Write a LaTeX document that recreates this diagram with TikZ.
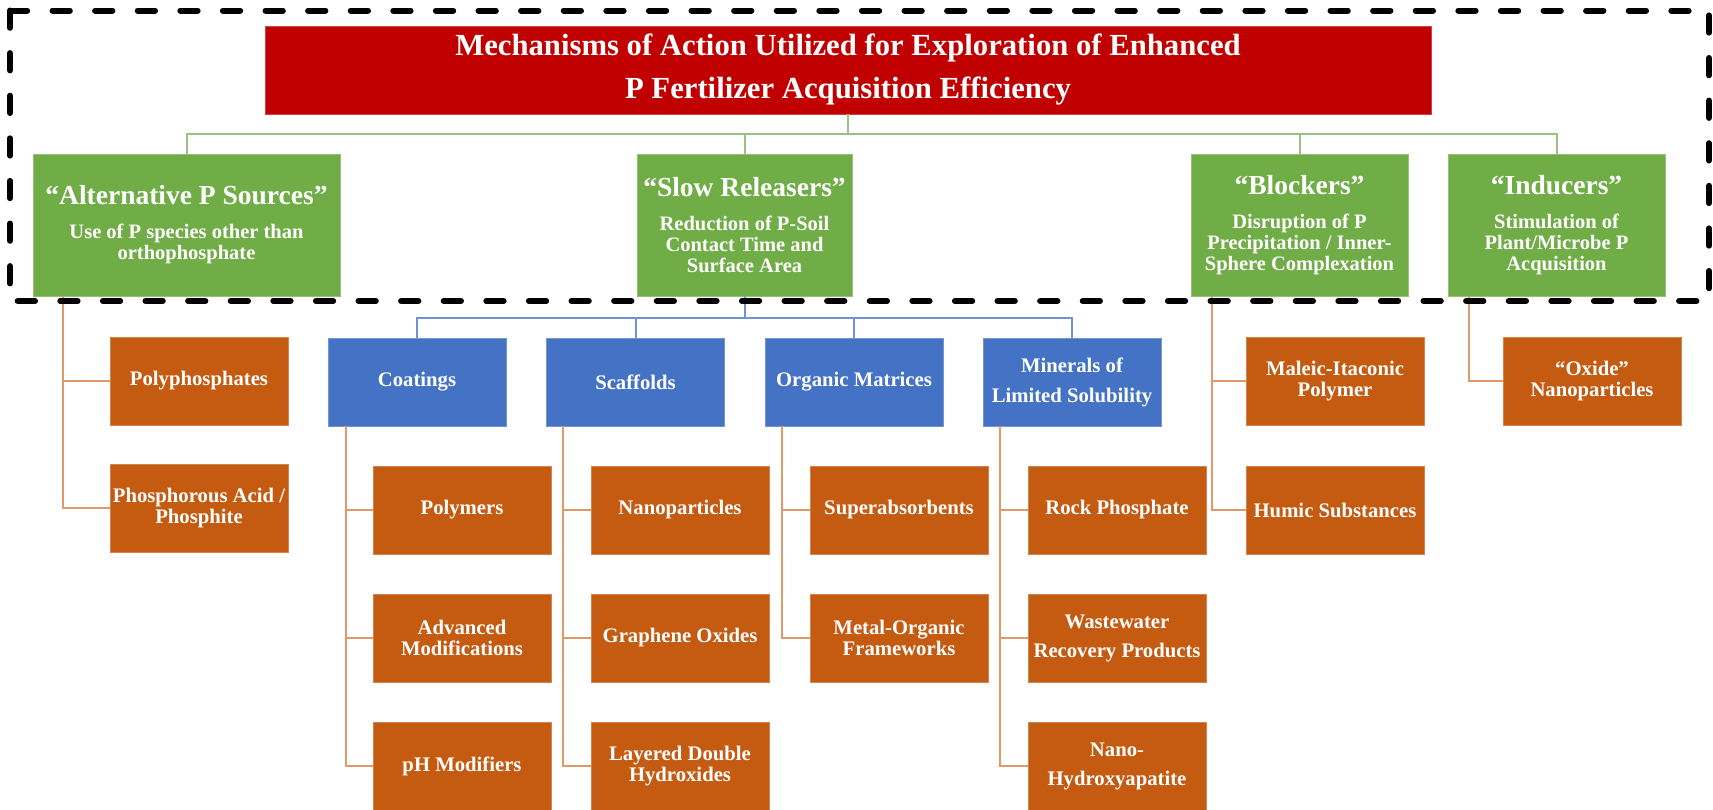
\documentclass[tikz,border=0pt]{standalone}
\usepackage{fontspec}
\setmainfont{Liberation Serif}
\definecolor{cred}{HTML}{C00000}
\definecolor{cgreen}{HTML}{70AD47}
\definecolor{cblue}{HTML}{4472C4}
\definecolor{corange}{HTML}{C55A11}
\definecolor{lgreen}{HTML}{9DC27F}
\definecolor{lblue}{HTML}{7393D0}
\definecolor{lorange}{HTML}{DE9A6A}
\begin{document}
\begin{tikzpicture}[x=1pt,y=-1pt,
  basebox/.style={rectangle, inner sep=0pt, align=center, text=white, line width=0.8pt},
  redbox/.style={basebox, fill=cred, draw=white!25!cred, minimum width=1166pt, minimum height=88pt,
    font=\bfseries\fontsize{30.7}{43}\selectfont},
  greenbox/.style={basebox, fill=cgreen, draw=white!25!cgreen, minimum width=#1, minimum height=142pt,
    font=\bfseries\fontsize{20.5}{21}\selectfont},
  greenbox/.default=217pt,
  bluebox/.style={basebox, fill=cblue, draw=white!25!cblue, minimum width=178pt, minimum height=88pt,
    font=\bfseries\fontsize{20.7}{21.5}\selectfont},
  orangebox/.style={basebox, fill=corange, draw=white!25!corange, minimum width=178pt, minimum height=88pt,
    font=\bfseries\fontsize{20.7}{21.5}\selectfont},
  gline/.style={draw=lgreen, line width=2pt},
  bline/.style={draw=lblue, line width=2pt},
  oline/.style={draw=lorange, line width=2pt},
  frameline/.style={draw=black, line width=6pt, dash pattern=on 17.3pt off 25.3pt, line cap=round},
  gtitle/.style={}
]
\useasboundingbox (0,0) rectangle (1713,809);
\newcommand{\gtit}[1]{{\fontsize{27.5}{28}\selectfont #1}}

% title
\node[redbox] (title) at (848,70) {Mechanisms of Action Utilized for Exploration of Enhanced\\P Fertilizer Acquisition Efficiency};

% green row
\node[greenbox=307pt] (alt) at (186.5,225) {\gtit{“Alternative P Sources”}\\[13pt]Use of P species other than\\orthophosphate};
\node[greenbox=215pt] (slow) at (744.5,225) {\gtit{“Slow Releasers”}\\[13pt]Reduction of P-Soil\\Contact Time and\\Surface Area};
\node[greenbox] (blk) at (1299.5,225) {\gtit{“Blockers”}\\[13pt]Disruption of P\\Precipitation / Inner-\\Sphere Complexation};
\node[greenbox] (ind) at (1556.5,225) {\gtit{“Inducers”}\\[13pt]Stimulation of\\Plant/Microbe P\\Acquisition};

% blue row
\node[bluebox] (coat) at (417,382) {Coatings};
\node[bluebox] (scaf) at (635.5,382) {Scaffolds};
\node[bluebox] (org) at (854,382) {Organic Matrices};
\node[bluebox] (minl) at (1072,382) {Minerals of\\[8.5pt]Limited Solubility};

% orange boxes
\node[orangebox] (poly) at (199,381) {Polyphosphates};
\node[orangebox] (phos) at (199,508) {Phosphorous Acid /\\Phosphite};
\node[orangebox] (c1) at (462,510) {Polymers};
\node[orangebox] (c2) at (462,638) {Advanced\\Modifications};
\node[orangebox] (c3) at (462,766) {pH Modifiers};
\node[orangebox] (s1) at (680,510) {Nanoparticles};
\node[orangebox] (s2) at (680,638) {Graphene Oxides};
\node[orangebox] (s3) at (680,766) {Layered Double\\Hydroxides};
\node[orangebox] (o1) at (899,510) {Superabsorbents};
\node[orangebox] (o2) at (899,638) {Metal-Organic\\Frameworks};
\node[orangebox] (m1) at (1117,510) {Rock Phosphate};
\node[orangebox] (m2) at (1117,638) {Wastewater\\[7.5pt]Recovery Products};
\node[orangebox] (m3) at (1117,766) {Nano-\\[7.5pt]Hydroxyapatite};
\node[orangebox] (b1) at (1335,381) {Maleic-Itaconic\\Polymer};
\node[orangebox] (b2) at (1335,510) {Humic Substances};
\node[orangebox] (i1) at (1592,381) {“Oxide”\\Nanoparticles};

% green connectors
\coordinate (gbus) at (0,134);
\draw[gline] (title.south) -- (title.south |- gbus);
\draw[gline] (alt.north) -- (alt.north |- gbus) -- (ind.north |- gbus) -- (ind.north);
\draw[gline] (slow.north) -- (slow.north |- gbus);
\draw[gline] (blk.north) -- (blk.north |- gbus);

% blue connectors
\coordinate (bbus) at (0,318);
\draw[bline] (slow.south) -- (slow.south |- bbus);
\draw[bline] (coat.north) -- (coat.north |- bbus) -- (minl.north |- bbus) -- (minl.north);
\draw[bline] (scaf.north) -- (scaf.north |- bbus);
\draw[bline] (org.north) -- (org.north |- bbus);

% orange connectors
\coordinate (altv) at ([xshift=30pt]alt.south west);
\draw[oline] (altv) |- (phos.west);
\draw[oline] (altv |- poly.west) -- (poly.west);

\coordinate (coatv) at ([xshift=18pt]coat.south west);
\draw[oline] (coatv) |- (c3.west);
\draw[oline] (coatv |- c1.west) -- (c1.west);
\draw[oline] (coatv |- c2.west) -- (c2.west);

\coordinate (scafv) at ([xshift=17pt]scaf.south west);
\draw[oline] (scafv) |- (s3.west);
\draw[oline] (scafv |- s1.west) -- (s1.west);
\draw[oline] (scafv |- s2.west) -- (s2.west);

\coordinate (orgv) at ([xshift=17pt]org.south west);
\draw[oline] (orgv) |- (o2.west);
\draw[oline] (orgv |- o1.west) -- (o1.west);

\coordinate (minv) at ([xshift=17pt]minl.south west);
\draw[oline] (minv) |- (m3.west);
\draw[oline] (minv |- m1.west) -- (m1.west);
\draw[oline] (minv |- m2.west) -- (m2.west);

\coordinate (blkv) at ([xshift=21pt]blk.south west);
\draw[oline] (blkv) |- (b2.west);
\draw[oline] (blkv |- b1.west) -- (b1.west);

\coordinate (indv) at ([xshift=21pt]ind.south west);
\draw[oline] (indv) |- (i1.west);

% dashed frame
\coordinate (fa) at (10,10.5);
\coordinate (fb) at (1709,301);
\draw[frameline] (fa) rectangle (fb);
\end{tikzpicture}
\end{document}
